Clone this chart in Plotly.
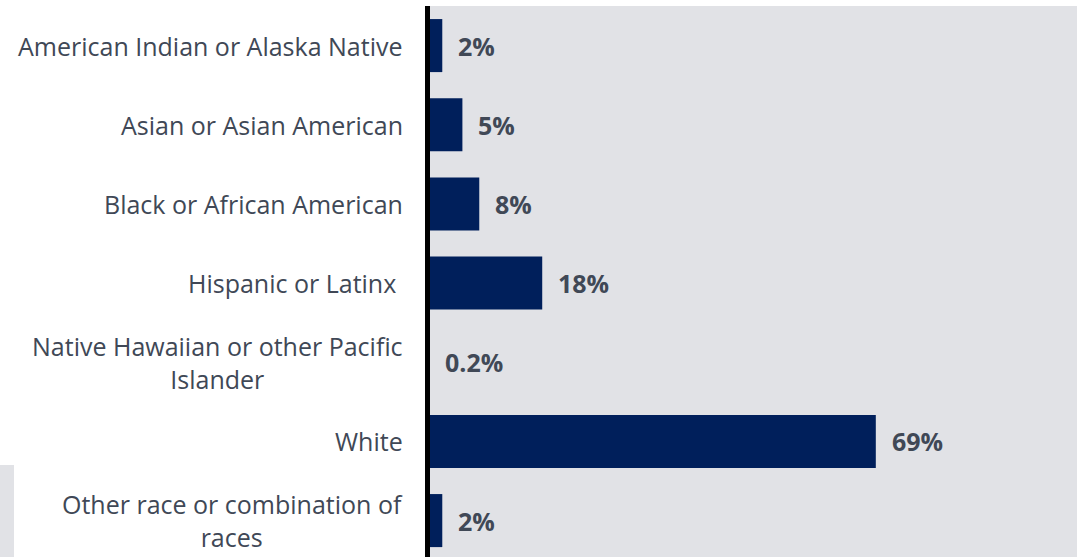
import plotly.graph_objects as go

categories = [
    "American Indian or Alaska Native",
    "Asian or Asian American",
    "Black or African American",
    "Hispanic or Latinx ",
    "Native Hawaiian or other Pacific<br>Islander",
    "White",
    "Other race or combination of<br>races",
]
values = [2.2, 5.3, 7.9, 17.6, 0.2, 69.0, 2.2]
value_labels = ["2%", "5%", "8%", "18%", "0.2%", "69%", "2%"]

W, H = 1077, 557
ML, MT = 428, 6
PW, PH = W - ML, H - MT

BAR = "#001f5b"
BG = "#e1e2e6"
TXT = "#404856"
FONT = "Open Sans"

fig = go.Figure()
fig.add_trace(go.Bar(
    x=values, y=list(range(len(categories))), orientation="h",
    marker=dict(color=BAR, line=dict(width=0)), width=0.67,
    hoverinfo="skip",
))

ann = []
for i, (v, t) in enumerate(zip(values, value_labels)):
    ann.append(dict(x=v, y=i, xref="x", yref="y", text=f"<b>{t}</b>", showarrow=False,
                    xanchor="left", yanchor="middle", xshift=14,
                    font=dict(family=FONT, size=25, color=TXT)))
for i, c in enumerate(categories):
    ann.append(dict(x=0, y=i, xref="paper", yref="y", text=c, showarrow=False,
                    xanchor="right", yanchor="middle", xshift=-23, align="center",
                    font=dict(family=FONT, size=25, color=TXT)))

axis_x = -0.5 / PW
fig.update_layout(
    width=W, height=H,
    margin=dict(l=ML, r=0, t=MT, b=0, pad=0),
    paper_bgcolor="white", plot_bgcolor=BG,
    showlegend=False,
    bargap=0.33,
    annotations=ann,
    shapes=[
        dict(type="rect", xref="paper", yref="paper",
             x0=-ML / PW, x1=(14 - ML) / PW, y0=0, y1=(H - 465) / PH,
             fillcolor=BG, line=dict(width=0), layer="below"),
        dict(type="line", xref="paper", yref="paper", x0=axis_x, x1=axis_x, y0=0, y1=1,
             line=dict(color="black", width=5), layer="above"),
    ],
)
fig.update_xaxes(range=[0, 100], showgrid=False, zeroline=False, showticklabels=False, fixedrange=True)
fig.update_yaxes(range=[6.46, -0.5], showgrid=False, zeroline=False, showticklabels=False,
                 showline=False, fixedrange=True)

fig.write_html("out.html", config={"displayModeBar": False},
               post_script="document.body.style.margin='0';document.body.style.overflow='hidden';")
